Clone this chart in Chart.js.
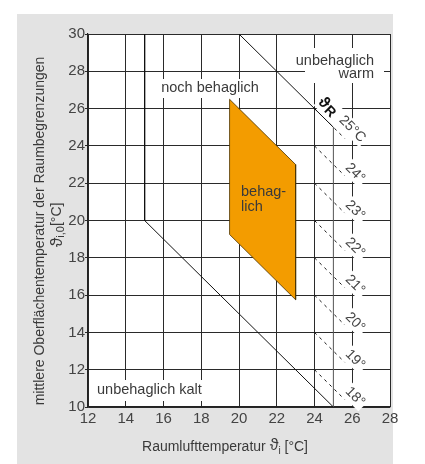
<!DOCTYPE html>
<html>
<head>
<meta charset="utf-8">
<script src="https://cdn.jsdelivr.net/npm/chart.js@4.4.0/dist/chart.umd.min.js"></script>
<style>
  html, body { margin: 0; padding: 0; background: #fff; }
  #wrap { position: relative; width: 425px; height: 464px; }
</style>
</head>
<body>
<div id="wrap"><canvas id="myChart" width="425" height="464"></canvas></div>
<script>
// axis ranges (room air temp / mean surface temp)
const xRange = [12, 28];
const yRange = [10, 30];

// comfort zone "behaglich"
const comfortX = [19.5, 23, 23, 19.5, 19.5];
const comfortY = [26.5, 23, 15.75, 19.25, 26.5];

// limit lines
const warmX = [20, 25];
const warmY = [30, 25];
const coldX = [15, 15, 25];
const coldY = [30, 20, 10];
const edgeX = [25, 25];
const edgeY = [10, 25];

// resulting temperature lines (ϑi + ϑi,0 = 2·ϑR)
const thetaR = [25, 24, 23, 22, 21, 20, 19, 18];
const thetaRLabels = ['25°C', '24°', '23°', '22°', '21°', '20°', '19°', '18°'];
const dashFrom = 24, dashTo = 25.6;

const FONT = '"Liberation Sans", Arial, sans-serif';
const pts = (xs, ys) => xs.map((x, i) => ({ x: x, y: ys[i] }));

const datasets = [
  {
    data: pts(comfortX, comfortY),
    showLine: true, fill: 'shape',
    backgroundColor: '#f39c00', borderColor: '#4a3200', borderWidth: 0.8,
    pointRadius: 0
  },
  { data: pts(warmX, warmY), showLine: true, borderColor: '#111', borderWidth: 1, pointRadius: 0 },
  { data: pts(coldX, coldY), showLine: true, borderColor: '#111', borderWidth: 1, pointRadius: 0 },
  { data: pts(edgeX, edgeY), showLine: true, borderColor: '#555', borderWidth: 1, pointRadius: 0 }
];
thetaR.forEach(r => {
  datasets.push({
    data: [{ x: dashFrom, y: 2 * r - dashFrom }, { x: dashTo, y: 2 * r - dashTo }],
    showLine: true, borderColor: '#111', borderWidth: 1, borderDash: [3, 4], pointRadius: 0
  });
});

const labelsPlugin = {
  id: 'labelsPlugin',
  beforeDraw(chart) {
    const ctx = chart.ctx, a = chart.chartArea;
    ctx.save();
    ctx.fillStyle = '#e3e3e3';
    ctx.fillRect(17, 14, 376, 450);
    ctx.fillStyle = '#fff';
    ctx.fillRect(a.left, a.top, a.right - a.left, a.bottom - a.top);
    ctx.restore();
  },
  afterDatasetsDraw(chart) {
    const ctx = chart.ctx;
    const xs = chart.scales.x, ys = chart.scales.y;
    const px = v => xs.getPixelForValue(v), py = v => ys.getPixelForValue(v);
    ctx.save();
    ctx.textBaseline = 'middle';
    ctx.font = '14.5px ' + FONT;

    // white boxes behind the zone names
    ctx.fillStyle = '#fff';
    ctx.fillRect(160, 79, 103, 19);
    ctx.fillRect(305, 48, 79, 35);
    ctx.fillRect(93, 380, 116, 21);

    ctx.fillStyle = '#3a3a3a';
    ctx.textAlign = 'center';
    ctx.fillText('noch behaglich', 210, 88);
    ctx.textAlign = 'right';
    ctx.fillText('unbehaglich', 374, 61);
    ctx.fillText('warm', 374, 74);
    ctx.textAlign = 'left';
    ctx.fillText('unbehaglich kalt', 97, 390);
    ctx.fillText('behag-', 241, 192);
    ctx.fillText('lich', 241, 207);

    // rotated ϑR labels
    ctx.font = '14px ' + FONT;
    thetaR.forEach((r, i) => {
      const lx = i === 0 ? 26.0 : 26.15;
      const ly = i === 0 ? 24.9 : 2 * r - 25.45;
      ctx.save();
      ctx.translate(px(lx), py(ly));
      ctx.rotate(Math.PI / 4);
      const t = thetaRLabels[i];
      const w = ctx.measureText(t).width;
      ctx.fillStyle = '#fff';
      ctx.fillRect(-w / 2 - 2, -8, w + 4, 16);
      ctx.fillStyle = '#444';
      ctx.textAlign = 'center';
      ctx.fillText(t, 0, 0);
      ctx.restore();
    });
    // ϑR
    ctx.save();
    ctx.translate(px(24.7), py(26.1));
    ctx.rotate(Math.PI / 4);
    ctx.fillStyle = '#fff';
    ctx.fillRect(-11, -9, 25, 18);
    ctx.fillStyle = '#111';
    ctx.textAlign = 'left';
    ctx.font = 'bold 16px ' + FONT;
    ctx.fillText('ϑ', -10, 0);
    ctx.font = 'bold 14px ' + FONT;
    ctx.fillText('R', 0, 2);
    ctx.restore();

    // x axis title
    ctx.fillStyle = '#3a3a3a';
    ctx.textAlign = 'left';
    const p1 = 'Raumlufttemperatur ', p2 = 'ϑ', p3 = 'i', p4 = ' [°C]';
    ctx.font = '14px ' + FONT;
    const w1 = ctx.measureText(p1).width;
    ctx.font = '16px ' + FONT;
    const w2 = ctx.measureText(p2).width;
    ctx.font = '10px ' + FONT;
    const w3 = ctx.measureText(p3).width;
    ctx.font = '14px ' + FONT;
    const w4 = ctx.measureText(p4).width;
    let sx = 225 - (w1 + w2 + w3 + w4) / 2;
    ctx.fillText(p1, sx, 447); sx += w1;
    ctx.font = '16px ' + FONT; ctx.fillText(p2, sx, 446); sx += w2;
    ctx.font = '10px ' + FONT; ctx.fillText(p3, sx, 451); sx += w3;
    ctx.font = '14px ' + FONT; ctx.fillText(p4, sx, 447);

    // y axis title
    ctx.save();
    ctx.translate(40, 231);
    ctx.rotate(-Math.PI / 2);
    ctx.textAlign = 'center';
    ctx.font = '14px ' + FONT;
    ctx.fillText('mittlere Oberflächentemperatur der Raumbegrenzungen', 0, 0);
    ctx.restore();

    ctx.save();
    ctx.translate(57, 247);
    ctx.rotate(-Math.PI / 2);
    ctx.textAlign = 'left';
    ctx.font = '17px ' + FONT;
    ctx.fillText('ϑ', 0, 0);
    let ox = ctx.measureText('ϑ').width;
    ctx.font = '11px ' + FONT;
    ctx.fillText('i,0', ox, 4);
    ox += ctx.measureText('i,0').width;
    ctx.font = '14px ' + FONT;
    ctx.fillText('[°C]', ox, 0);
    ctx.restore();

    ctx.restore();
  }
};

const ctx = document.getElementById('myChart').getContext('2d');
const chart = new Chart(ctx, {
  type: 'scatter',
  data: { datasets: datasets },
  options: {
    responsive: false,
    animation: false,
    devicePixelRatio: 1,
    layout: { padding: { top: 34, right: 35, left: 0, bottom: 0 } },
    plugins: { legend: { display: false }, tooltip: { enabled: false } },
    scales: {
      x: {
        type: 'linear', min: xRange[0], max: xRange[1],
        afterFit: s => { s.height = 57; },
        ticks: { stepSize: 2, color: '#444', font: { size: 15, family: FONT }, padding: 3, maxRotation: 0 },
        grid: { color: '#2a2a2a', lineWidth: 1, drawTicks: false },
        border: { color: '#222', width: 1.2 }
      },
      y: {
        type: 'linear', min: yRange[0], max: yRange[1],
        afterFit: s => { s.width = 88; },
        ticks: { stepSize: 2, color: '#444', font: { size: 15, family: FONT }, padding: 0 },
        grid: { color: '#2a2a2a', lineWidth: 1, tickLength: 3 },
        border: { color: '#222', width: 1.2 }
      }
    }
  },
  plugins: [labelsPlugin]
});
</script>
</body>
</html>
